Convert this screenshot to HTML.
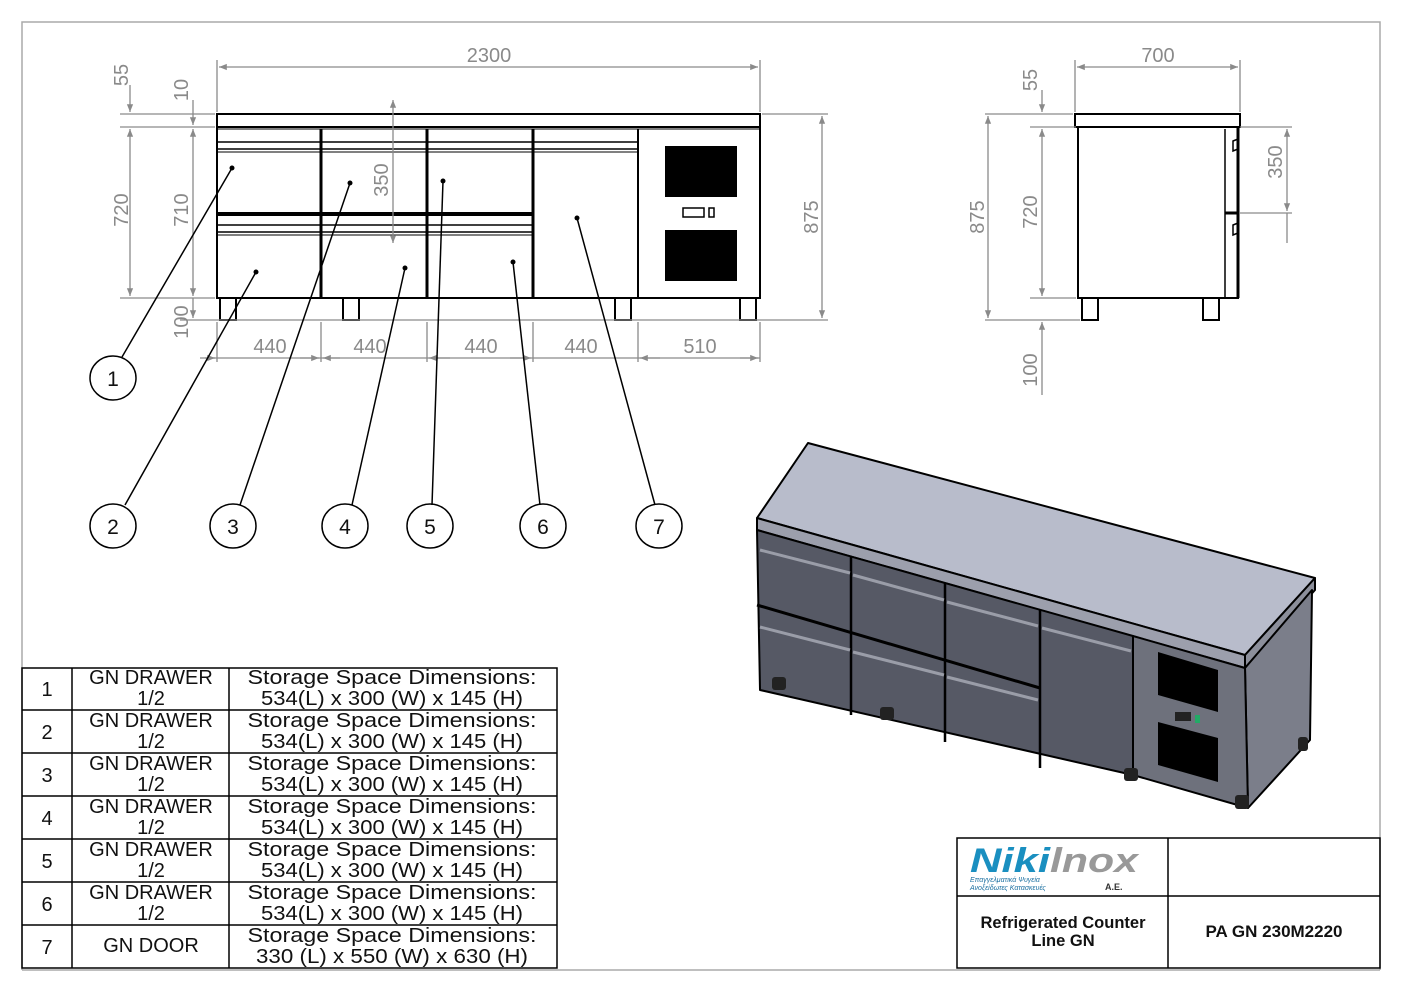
<!DOCTYPE html>
<html><head><meta charset="utf-8"><style>
html,body{margin:0;padding:0;background:#fff;}
svg{display:block;font-family:"Liberation Sans",sans-serif;}
.d{stroke:#8a8a8a;stroke-width:1.3;fill:none}
.dt{fill:#8a8a8a;font-size:20px}
.k{stroke:#000;fill:none;stroke-width:2}
.t{font-size:20px;fill:#111}
</style></head><body>
<svg width="1403" height="992" viewBox="0 0 1403 992" xmlns="http://www.w3.org/2000/svg">
<defs>
<marker id="a" viewBox="0 0 10 10" refX="10" refY="5" markerWidth="9" markerHeight="6" orient="auto-start-reverse"><path d="M0,1 L10,5 L0,9z" fill="#8a8a8a"/></marker>
</defs>
<!-- frame -->
<path d="M22,970 V22 H1380 V970" stroke="#aaa" stroke-width="1.5" fill="none"/>
<line x1="22" y1="970" x2="1380" y2="970" stroke="#aaa" stroke-width="1.5"/>

<!-- FRONT VIEW -->
<g class="k">
<rect x="217" y="114" width="543" height="13"/>
<rect x="217" y="127" width="543" height="171"/>
<line x1="217" y1="129" x2="760" y2="129" stroke-width="1"/>
<line x1="321" y1="129" x2="321" y2="298" stroke-width="3"/>
<line x1="427" y1="129" x2="427" y2="298" stroke-width="3"/>
<line x1="533" y1="129" x2="533" y2="298" stroke-width="3"/>
<line x1="638" y1="129" x2="638" y2="298" stroke-width="2"/>
<line x1="217" y1="142" x2="638" y2="142" stroke-width="1.5"/>
<line x1="217" y1="149" x2="638" y2="149" stroke-width="1.5"/>
<line x1="217" y1="152" x2="638" y2="152" stroke-width="1"/>
<line x1="217" y1="214" x2="533" y2="214" stroke-width="4"/>
<line x1="217" y1="225" x2="533" y2="225" stroke-width="1.5"/>
<line x1="217" y1="232" x2="533" y2="232" stroke-width="1.5"/>
<line x1="217" y1="235" x2="533" y2="235" stroke-width="1"/>
<rect x="220" y="298" width="16" height="22"/>
<rect x="343" y="298" width="16" height="22"/>
<rect x="615" y="298" width="16" height="22"/>
<rect x="740" y="298" width="16" height="22"/>
<rect x="683" y="208" width="21" height="9" stroke-width="1.5"/>
<rect x="709" y="208" width="5" height="9" stroke-width="1.5"/>
</g>
<rect x="665" y="146" width="72" height="51" fill="#000"/>
<rect x="665" y="230" width="72" height="51" fill="#000"/>
<!-- front dims -->
<g class="d">
<line x1="217" y1="60" x2="217" y2="112"/><line x1="760" y1="60" x2="760" y2="112"/>
<line x1="219" y1="67" x2="758" y2="67" marker-start="url(#a)" marker-end="url(#a)"/>
<line x1="120" y1="114" x2="215" y2="114"/><line x1="120" y1="127" x2="215" y2="127"/><line x1="120" y1="298" x2="215" y2="298"/>
<line x1="130" y1="85" x2="130" y2="112" marker-end="url(#a)"/>
<line x1="130" y1="129" x2="130" y2="296" marker-start="url(#a)" marker-end="url(#a)"/>
<line x1="193" y1="100" x2="193" y2="125" marker-end="url(#a)"/>
<line x1="193" y1="129" x2="193" y2="296" marker-start="url(#a)" marker-end="url(#a)"/>
<line x1="193" y1="298" x2="193" y2="318" marker-end="url(#a)"/>
<line x1="180" y1="320" x2="828" y2="320"/>
<line x1="762" y1="114" x2="828" y2="114"/>
<line x1="822" y1="116" x2="822" y2="318" marker-start="url(#a)" marker-end="url(#a)"/>
<line x1="393" y1="100" x2="393" y2="243" marker-start="url(#a)" marker-end="url(#a)"/>
<line x1="217" y1="322" x2="217" y2="362"/><line x1="321" y1="322" x2="321" y2="362"/><line x1="427" y1="322" x2="427" y2="362"/><line x1="533" y1="322" x2="533" y2="362"/><line x1="638" y1="322" x2="638" y2="362"/><line x1="760" y1="322" x2="760" y2="362"/>
<line x1="200" y1="358" x2="760" y2="358"/>
<line x1="205" y1="358" x2="215" y2="358" marker-end="url(#a)"/>
<line x1="300" y1="358" x2="319" y2="358" marker-end="url(#a)"/>
<line x1="340" y1="358" x2="323" y2="358" marker-end="url(#a)"/>
<line x1="450" y1="358" x2="429" y2="358" marker-end="url(#a)"/>
<line x1="510" y1="358" x2="531" y2="358" marker-end="url(#a)"/>
<line x1="660" y1="358" x2="640" y2="358" marker-end="url(#a)"/>
<line x1="740" y1="358" x2="758" y2="358" marker-end="url(#a)"/>
</g>
<g class="dt">
<text x="489" y="62" text-anchor="middle">2300</text>
<text x="270" y="353" text-anchor="middle">440</text>
<text x="370" y="353" text-anchor="middle">440</text>
<text x="481" y="353" text-anchor="middle">440</text>
<text x="581" y="353" text-anchor="middle">440</text>
<text x="700" y="353" text-anchor="middle">510</text>
<text transform="translate(128,75) rotate(-90)" text-anchor="middle">55</text>
<text transform="translate(188,90) rotate(-90)" text-anchor="middle">10</text>
<text transform="translate(128,210) rotate(-90)" text-anchor="middle">720</text>
<text transform="translate(188,210) rotate(-90)" text-anchor="middle">710</text>
<text transform="translate(188,322) rotate(-90)" text-anchor="middle">100</text>
<text transform="translate(388,180) rotate(-90)" text-anchor="middle">350</text>
<text transform="translate(818,217) rotate(-90)" text-anchor="middle">875</text>
</g>
<!-- leaders and balloons -->
<g stroke="#000" stroke-width="1.5" fill="none">
<line x1="232" y1="168" x2="122" y2="357"/>
<line x1="256" y1="272" x2="125" y2="505"/>
<line x1="350" y1="183" x2="240" y2="505"/>
<line x1="405" y1="268" x2="352" y2="505"/>
<line x1="443" y1="181" x2="432" y2="505"/>
<line x1="513" y1="262" x2="540" y2="505"/>
<line x1="577" y1="218" x2="655" y2="505"/>
<ellipse cx="113" cy="378" rx="23" ry="22"/>
<ellipse cx="113" cy="526" rx="23" ry="22"/>
<ellipse cx="233" cy="526" rx="23" ry="22"/>
<ellipse cx="345" cy="526" rx="23" ry="22"/>
<ellipse cx="430" cy="526" rx="23" ry="22"/>
<ellipse cx="543" cy="526" rx="23" ry="22"/>
<ellipse cx="659" cy="526" rx="23" ry="22"/>
</g>
<g fill="#000">
<circle cx="232" cy="168" r="2.5"/><circle cx="256" cy="272" r="2.5"/><circle cx="350" cy="183" r="2.5"/><circle cx="405" cy="268" r="2.5"/><circle cx="443" cy="181" r="2.5"/><circle cx="513" cy="262" r="2.5"/><circle cx="577" cy="218" r="2.5"/>
</g>
<g font-size="21" fill="#111" text-anchor="middle">
<text x="113" y="386">1</text><text x="113" y="534">2</text><text x="233" y="534">3</text><text x="345" y="534">4</text><text x="430" y="534">5</text><text x="543" y="534">6</text><text x="659" y="534">7</text>
</g>

<!-- SIDE VIEW -->
<g class="k">
<rect x="1075" y="114" width="165" height="13"/>
<rect x="1078" y="127" width="160" height="171"/>
<line x1="1225" y1="129" x2="1225" y2="298" stroke-width="1.5"/>
<line x1="1225" y1="213" x2="1238" y2="213" stroke-width="3"/>
<line x1="1238" y1="127" x2="1238" y2="298" stroke-width="3"/>
<rect x="1082" y="298" width="16" height="22"/>
<rect x="1203" y="298" width="16" height="22"/>
<path d="M1233,141 l5,-2 v10 l-5,2z" stroke-width="1.5"/>
<path d="M1233,225 l5,-2 v10 l-5,2z" stroke-width="1.5"/>
</g>
<g class="d">
<line x1="1075" y1="60" x2="1075" y2="112"/><line x1="1240" y1="60" x2="1240" y2="112"/>
<line x1="1077" y1="67" x2="1238" y2="67" marker-start="url(#a)" marker-end="url(#a)"/>
<line x1="985" y1="114" x2="1073" y2="114"/><line x1="1030" y1="127" x2="1076" y2="127"/><line x1="1030" y1="298" x2="1076" y2="298"/>
<line x1="985" y1="320" x2="1080" y2="320"/>
<line x1="988" y1="116" x2="988" y2="318" marker-start="url(#a)" marker-end="url(#a)"/>
<line x1="1042" y1="90" x2="1042" y2="112" marker-end="url(#a)"/>
<line x1="1042" y1="129" x2="1042" y2="296" marker-start="url(#a)" marker-end="url(#a)"/>
<line x1="1042" y1="395" x2="1042" y2="322" marker-end="url(#a)"/>
<line x1="1240" y1="127" x2="1292" y2="127"/><line x1="1240" y1="213" x2="1292" y2="213"/>
<line x1="1287" y1="129" x2="1287" y2="211" marker-start="url(#a)" marker-end="url(#a)"/>
<line x1="1287" y1="213" x2="1287" y2="243"/>
</g>
<g class="dt">
<text x="1158" y="62" text-anchor="middle">700</text>
<text transform="translate(1037,80) rotate(-90)" text-anchor="middle">55</text>
<text transform="translate(984,217) rotate(-90)" text-anchor="middle">875</text>
<text transform="translate(1037,212) rotate(-90)" text-anchor="middle">720</text>
<text transform="translate(1037,370) rotate(-90)" text-anchor="middle">100</text>
<text transform="translate(1282,162) rotate(-90)" text-anchor="middle">350</text>
</g>

<!-- ISOMETRIC -->
<g stroke="#000" stroke-width="2" stroke-linejoin="round">
<polygon points="808,443 1315,578 1245,655 757,518" fill="#b8bccb"/>
<polygon points="757,518 1245,655 1245,668 757,530" fill="#9c9fac"/>
<polygon points="1245,655 1315,578 1315,590 1245,668" fill="#8c8f9b"/>
<polygon points="1245,668 1312,590 1310,740 1248,808" fill="#7b7e8a"/>
<polygon points="757,530 1133,636 1133,775 760,690" fill="#565965"/>
<polygon points="1133,636 1245,668 1248,808 1133,775" fill="#6e717c"/>
</g>
<g stroke="#000" stroke-width="2.5">
<line x1="851" y1="556" x2="851" y2="715"/>
<line x1="945" y1="583" x2="945" y2="742"/>
<line x1="1040" y1="610" x2="1040" y2="768"/>
<line x1="757" y1="605" x2="1040" y2="688" stroke-width="3"/>
</g>
<g stroke="#9a9da8" stroke-width="3">
<line x1="760" y1="550" x2="850" y2="573"/><line x1="853" y1="575" x2="944" y2="600"/><line x1="947" y1="602" x2="1038" y2="626"/><line x1="1042" y1="628" x2="1131" y2="651"/>
<line x1="760" y1="627" x2="850" y2="650"/><line x1="853" y1="652" x2="944" y2="675"/><line x1="947" y1="677" x2="1038" y2="700"/>
</g>
<polygon points="1158,652 1218,670 1218,712 1158,695" fill="#000"/>
<polygon points="1158,722 1218,738 1218,782 1158,765" fill="#000"/>
<rect x="1175" y="712" width="16" height="9" fill="#222"/>
<rect x="1195" y="715" width="5" height="8" fill="#2a6"/>
<g fill="#222">
<rect x="772" y="677" width="14" height="13" rx="3"/><rect x="880" y="707" width="14" height="13" rx="3"/><rect x="1124" y="768" width="14" height="13" rx="3"/><rect x="1235" y="795" width="14" height="14" rx="3"/><rect x="1298" y="737" width="10" height="14" rx="3"/>
</g>

<!-- TABLE -->
<g stroke="#000" stroke-width="1.5" fill="none">
<rect x="22" y="668" width="535" height="300"/>
<line x1="72" y1="668" x2="72" y2="968"/><line x1="229" y1="668" x2="229" y2="968"/>
<line x1="22" y1="710" x2="557" y2="710"/><line x1="22" y1="753" x2="557" y2="753"/><line x1="22" y1="796" x2="557" y2="796"/><line x1="22" y1="839" x2="557" y2="839"/><line x1="22" y1="882" x2="557" y2="882"/><line x1="22" y1="925" x2="557" y2="925"/>
</g>
<g class="t" text-anchor="middle">
<text x="47" y="696">1</text><text x="47" y="739">2</text><text x="47" y="782">3</text><text x="47" y="825">4</text><text x="47" y="868">5</text><text x="47" y="911">6</text><text x="47" y="954">7</text>
<text x="151" y="684">GN  DRAWER</text><text x="151" y="705">1/2</text>
<text x="151" y="727">GN  DRAWER</text><text x="151" y="748">1/2</text>
<text x="151" y="770">GN  DRAWER</text><text x="151" y="791">1/2</text>
<text x="151" y="813">GN  DRAWER</text><text x="151" y="834">1/2</text>
<text x="151" y="856">GN  DRAWER</text><text x="151" y="877">1/2</text>
<text x="151" y="899">GN  DRAWER</text><text x="151" y="920">1/2</text>
<text x="151" y="952">GN DOOR</text>
<text x="392" y="684" textLength="289" lengthAdjust="spacingAndGlyphs">Storage Space Dimensions:</text><text x="392" y="705" textLength="262" lengthAdjust="spacingAndGlyphs">534(L) x 300 (W) x 145 (H)</text>
<text x="392" y="727" textLength="289" lengthAdjust="spacingAndGlyphs">Storage Space Dimensions:</text><text x="392" y="748" textLength="262" lengthAdjust="spacingAndGlyphs">534(L) x 300 (W) x 145 (H)</text>
<text x="392" y="770" textLength="289" lengthAdjust="spacingAndGlyphs">Storage Space Dimensions:</text><text x="392" y="791" textLength="262" lengthAdjust="spacingAndGlyphs">534(L) x 300 (W) x 145 (H)</text>
<text x="392" y="813" textLength="289" lengthAdjust="spacingAndGlyphs">Storage Space Dimensions:</text><text x="392" y="834" textLength="262" lengthAdjust="spacingAndGlyphs">534(L) x 300 (W) x 145 (H)</text>
<text x="392" y="856" textLength="289" lengthAdjust="spacingAndGlyphs">Storage Space Dimensions:</text><text x="392" y="877" textLength="262" lengthAdjust="spacingAndGlyphs">534(L) x 300 (W) x 145 (H)</text>
<text x="392" y="899" textLength="289" lengthAdjust="spacingAndGlyphs">Storage Space Dimensions:</text><text x="392" y="920" textLength="262" lengthAdjust="spacingAndGlyphs">534(L) x 300 (W) x 145 (H)</text>
<text x="392" y="942" textLength="289" lengthAdjust="spacingAndGlyphs">Storage Space Dimensions:</text><text x="392" y="963" textLength="272" lengthAdjust="spacingAndGlyphs">330 (L) x 550 (W) x 630 (H)</text>
</g>

<!-- TITLE BLOCK -->
<g stroke="#000" stroke-width="1.5" fill="none">
<rect x="957" y="838" width="423" height="130"/>
<line x1="1168" y1="838" x2="1168" y2="968"/>
<line x1="957" y1="896" x2="1380" y2="896"/>
</g>
<text x="970" y="872" font-size="34" font-weight="bold" font-style="italic" fill="#1a8fc0" textLength="80" lengthAdjust="spacingAndGlyphs">Niki</text>
<text x="1050" y="872" font-size="34" font-weight="bold" font-style="italic" fill="#999" textLength="88" lengthAdjust="spacingAndGlyphs">lnox</text>
<text x="970" y="882" font-size="7" font-style="italic" fill="#1a6fa0">Επαγγελματικά Ψυγεία</text>
<text x="970" y="890" font-size="7" font-style="italic" fill="#1a6fa0">Ανοξείδωτες Κατασκευές</text>
<text x="1105" y="890" font-size="9" font-weight="bold" fill="#333">A.E.</text>
<text x="1063" y="928" font-size="16.5" font-weight="bold" text-anchor="middle" fill="#111">Refrigerated Counter</text>
<text x="1063" y="946" font-size="16.5" font-weight="bold" text-anchor="middle" fill="#111">Line GN</text>
<text x="1274" y="937" font-size="17" font-weight="bold" text-anchor="middle" fill="#111">PA GN 230M2220</text>
</svg>
</body></html>
